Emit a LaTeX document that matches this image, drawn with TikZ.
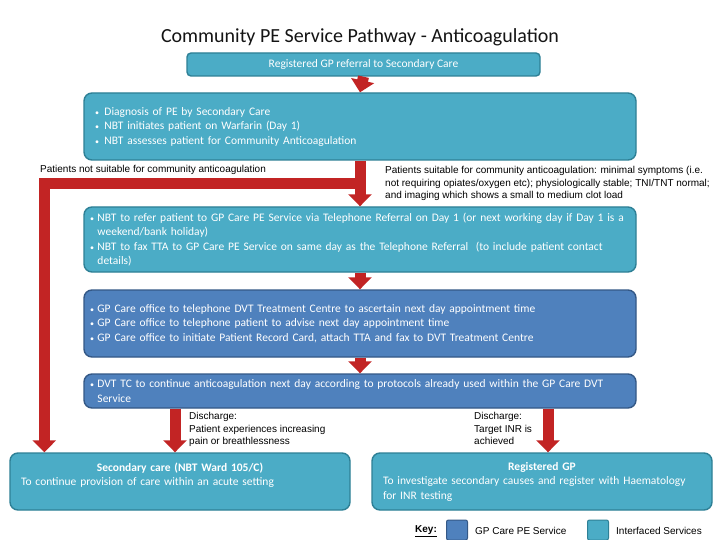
\documentclass[tikz,border=0pt]{standalone}
\usepackage{fontspec}
\setmainfont{Carlito}
\newfontfamily\labelfont{Liberation Sans}
\usetikzlibrary{arrows.meta,calc,positioning}
\definecolor{svcteal}{RGB}{75,172,198}
\definecolor{svctealdark}{RGB}{46,128,150}
\definecolor{gpblue}{RGB}{79,129,189}
\definecolor{gpbluedark}{RGB}{52,88,134}
\definecolor{flowred}{RGB}{194,36,36}
\definecolor{titlegrey}{RGB}{20,20,20}
\newcommand\bul{{\footnotesize\textbullet}\hspace{3.5pt}}
\newcommand\bulind{\hphantom{\bul}}
\tikzset{
  ifbox/.style={rounded corners=8pt,draw=svctealdark,fill=svcteal,line width=1.4pt,
    text=white,font=\fontsize{11.5}{14.5}\selectfont,align=left,inner xsep=6pt,inner ysep=3pt},
  gpbox/.style={ifbox,draw=gpbluedark,fill=gpblue},
  redarrow/.style={draw=flowred,line width=11pt,line join=miter,
    -{Triangle[width=23pt,length=12pt]}},
  note/.style={font=\labelfont\fontsize{10}{12.6}\selectfont,align=left,inner sep=0pt,text=black},
  keysq/.style={rounded corners=2pt,line width=1pt,minimum size=20pt,inner sep=0pt}
}
\begin{document}
\begin{tikzpicture}[x=1pt,y=-1pt]
  \useasboundingbox (0,0) rectangle (720,540);
  \fill[white] (0,0) rectangle (720,540);

  \node[text=titlegrey,font=\fontsize{20}{22}\selectfont] (title) at (360,37)
    {Community PE Service Pathway - Anticoagulation};

  % the pathway, top to bottom
  \node[ifbox,align=center,minimum width=353pt,minimum height=23pt,rounded corners=4pt] (referral)
    at (363.5,64.5) {Registered GP referral to Secondary Care};
  \node[ifbox,minimum width=552pt,minimum height=67pt,text width=530pt,inner xsep=11pt] (diag)
    at (360,126.5) {\bul\hspace{2pt}Diagnosis of PE by Secondary Care\\
      \bul\hspace{2pt}NBT initiates patient on Warfarin (Day 1)\\
      \bul\hspace{2pt}NBT assesses patient for Community Anticoagulation};
  \node[ifbox,minimum width=552pt,minimum height=65pt,text width=540pt] (refer)
    at (360,239.5) {\bul NBT to refer patient to GP Care PE Service via Telephone Referral on Day 1 (or next working day if Day 1 is a\\
      \bulind weekend/bank holiday)\\
      \bul NBT to fax TTA to GP Care PE Service on same day as the Telephone Referral\ \ (to include patient contact\\
      \bulind details)};
  \node[gpbox,minimum width=552pt,minimum height=67pt,text width=540pt] (office)
    at (360,323.5) {\bul GP Care office to telephone DVT Treatment Centre to ascertain next day appointment time\\
      \bul GP Care office to telephone patient to advise next day appointment time\\
      \bul GP Care office to initiate Patient Record Card, attach TTA and fax to DVT Treatment Centre};
  \node[gpbox,minimum width=552pt,minimum height=34pt,text width=540pt] (dvt)
    at (360,391) {\bul DVT TC to continue anticoagulation next day according to protocols already used within the GP Care DVT\\
      \bulind Service};

  % outcomes
  \node[ifbox,align=center,minimum width=340pt,minimum height=57pt,text width=318pt,inner xsep=11pt] (acute)
    at (180,481.5) {\textbf{Secondary care (NBT Ward 105/C)}\\
      \makebox[318pt][l]{To continue provision of care within an acute setting}\\\mbox{}};
  \node[ifbox,align=center,minimum width=340pt,minimum height=57pt,text width=318pt,inner xsep=9pt] (gpreg)
    at (542,481.5) {\textbf{Registered GP}\\
      \makebox[318pt][l]{To investigate secondary causes and register with Haematology}\\
      \makebox[318pt][l]{for INR testing}};

  % connectors
  \coordinate (split) at ($(diag.south)!0.5!(refer.north)$);
  \coordinate (bend) at ([xshift=35pt]acute.north west |- split);
  \draw[redarrow] (referral.south) -- (diag.north);
  \draw[redarrow] (diag.south) -- (refer.north);
  \draw[redarrow] (split) -- (bend) -- (bend |- acute.north);
  \draw[redarrow] (refer.south) -- (office.north);
  \draw[redarrow] (office.south) -- (dvt.north);
  \draw[redarrow] ([xshift=-5pt]acute.north |- dvt.south) -- ([xshift=-5pt]acute.north);
  \draw[redarrow] ([xshift=6pt]gpreg.north |- dvt.south) -- ([xshift=6pt]gpreg.north);

  % labels on the connectors
  \node[note,anchor=base west] (unsuit) at (40,173)
    {Patients not suitable for community anticoagulation};
  \node[note,anchor=north west] (suit) at (385,166)
    {Patients suitable for community anticoagulation: minimal symptoms (i.e.\\
     not requiring opiates/oxygen etc); physiologically stable; TNI/TNT normal;\\
     and imaging which shows a small to medium clot load};
  \node[note,anchor=north west] (dischleft) at (189,412)
    {Discharge:\\Patient experiences increasing\\pain or breathlessness};
  \node[note,anchor=north west] (dischright) at (474,412)
    {Discharge:\\Target INR is\\achieved};

  % key
  \node[note,font=\labelfont\bfseries\fontsize{10}{11}\selectfont,anchor=west] (keylbl) at (415,531) {\underline{Key:}};
  \node[keysq,draw=gpbluedark,fill=gpblue,minimum width=21pt] (keygp) at (457,530) {};
  \node[note,anchor=west] (keygptxt) at (475,531) {GP Care PE Service};
  \node[keysq,draw=svctealdark,fill=svcteal,minimum width=21pt] (keyif) at (598,530) {};
  \node[note,anchor=west] (keyiftxt) at (616,531) {Interfaced Services};
\end{tikzpicture}
\end{document}
